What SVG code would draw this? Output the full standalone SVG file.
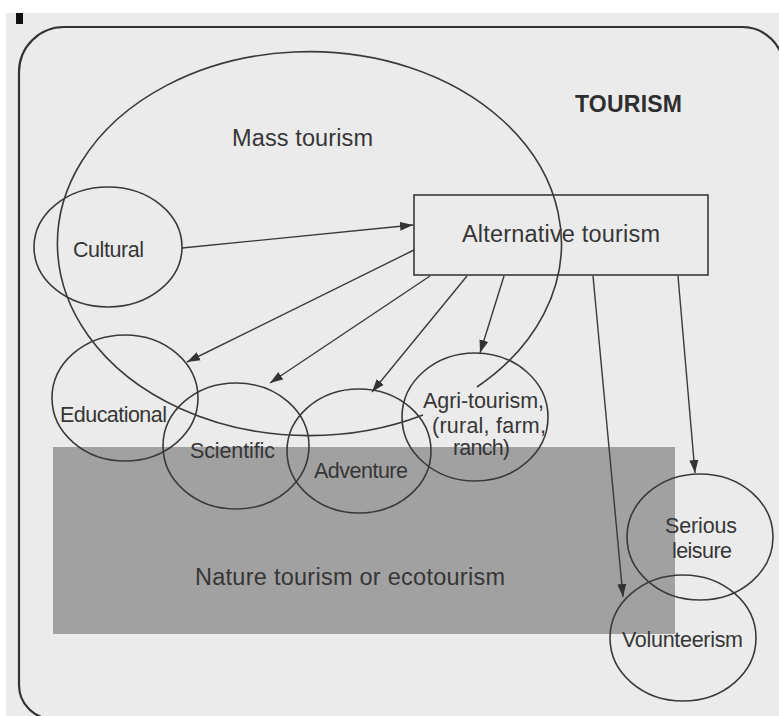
<svg xmlns="http://www.w3.org/2000/svg" width="779" height="716" viewBox="0 0 779 716">
<defs>
<marker id="ah" markerUnits="userSpaceOnUse" markerWidth="14" markerHeight="10" refX="13" refY="5" orient="auto">
<path d="M0,0.5 L13,5 L0,9.5 Z" fill="#333"/>
</marker>
<style>
.t{font-family:"Liberation Sans",Arial,sans-serif;font-size:21.5px;fill:#363636}
.l{font-size:23.5px}
.b{font-family:"Liberation Sans",Arial,sans-serif;font-size:23px;font-weight:bold;fill:#2e2e2e}
.c{fill:none;stroke:#3a3a3a;stroke-width:1.6}
.e{fill:none;stroke:#3a3a3a;stroke-width:1.4;marker-end:url(#ah)}
</style>
</defs>
<rect x="0" y="0" width="779" height="716" fill="#ffffff"/>
<rect x="6" y="13" width="773" height="703" fill="#ebebeb"/>
<rect x="16" y="13" width="7" height="11" fill="#111"/>
<g id="frame">
<path d="M19,72 A45,45 0 0 1 64,27 L742,27 A42,42 0 0 1 784,69 L784,719 L53,719 A34,34 0 0 1 19,685 Z" fill="none" stroke="#333" stroke-width="2.2"/>
<text class="b" x="575" y="112" textLength="107">TOURISM</text>
</g>
<g id="nature">
<rect x="53" y="447" width="622" height="187" fill="#a1a1a1"/>
<text class="t l" x="195" y="585" textLength="310">Nature tourism or ecotourism</text>
</g>
<g id="mass">
<path class="c" d="M423,415 A252,192 0 1 1 477,387"/>
<text class="t l" x="232" y="146" textLength="141">Mass tourism</text>
</g>
<g id="alternative">
<rect x="414" y="195" width="294" height="80" fill="none" stroke="#3a3a3a" stroke-width="1.6"/>
<text class="t l" x="462" y="242" textLength="198">Alternative tourism</text>
</g>
<g id="cultural">
<ellipse class="c" cx="108" cy="247" rx="74" ry="60"/>
<text class="t" x="73" y="257" textLength="71">Cultural</text>
</g>
<g id="educational">
<ellipse class="c" cx="125" cy="398" rx="73" ry="63"/>
<text class="t" x="60" y="422" textLength="107">Educational</text>
</g>
<g id="scientific">
<ellipse class="c" cx="236" cy="446" rx="73" ry="63"/>
<text class="t" x="190" y="458" textLength="85">Scientific</text>
</g>
<g id="adventure">
<ellipse class="c" cx="359" cy="451" rx="72" ry="62"/>
<text class="t" x="314" y="478" textLength="94">Adventure</text>
</g>
<g id="agri">
<ellipse class="c" cx="475" cy="417" rx="73" ry="64"/>
<text class="t" x="423" y="408" textLength="121">Agri-tourism,</text>
<text class="t" x="432" y="433" textLength="114">(rural, farm,</text>
<text class="t" x="453" y="455" textLength="57">ranch)</text>
</g>
<g id="serious">
<ellipse class="c" cx="700" cy="537" rx="73" ry="63"/>
<text class="t" x="665" y="533" textLength="72">Serious</text>
<text class="t" x="672" y="558" textLength="60">leisure</text>
</g>
<g id="volunteerism">
<ellipse class="c" cx="683" cy="638" rx="73" ry="63"/>
<text class="t" x="622" y="647" textLength="121">Volunteerism</text>
</g>
<g id="connectors">
<line class="e" x1="182" y1="248" x2="413" y2="225"/>
<line class="e" x1="414" y1="250" x2="187" y2="362"/>
<line class="e" x1="430" y1="276" x2="270" y2="383"/>
<line class="e" x1="467" y1="276" x2="372" y2="392"/>
<line class="e" x1="504" y1="276" x2="480" y2="353"/>
<line class="e" x1="593" y1="276" x2="623" y2="597"/>
<line class="e" x1="678" y1="276" x2="695" y2="473"/>
</g>
</svg>
